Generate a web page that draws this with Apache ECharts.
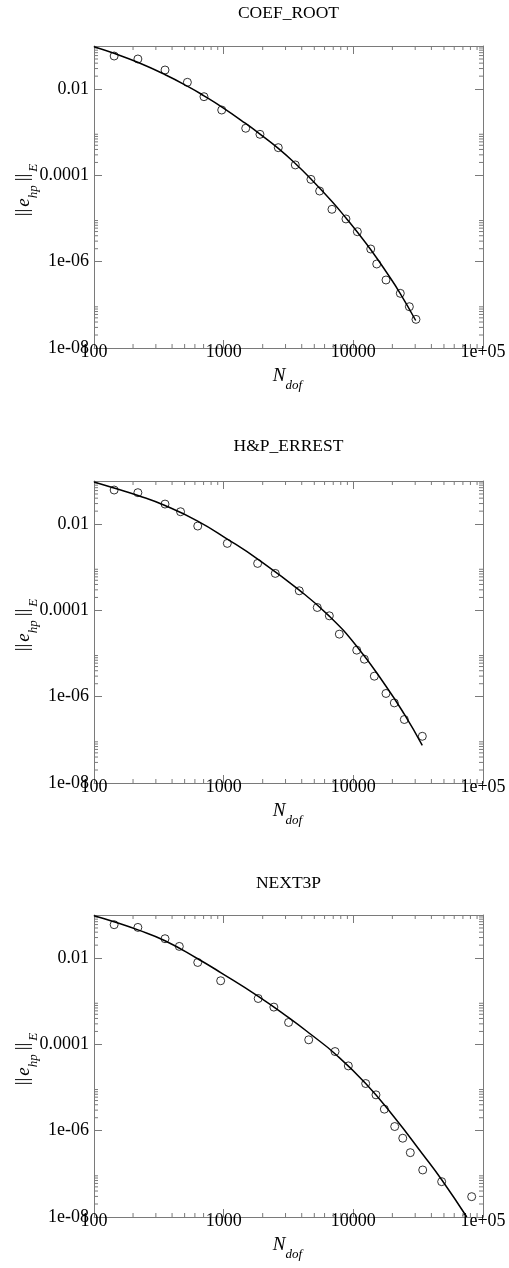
<!DOCTYPE html>
<html>
<head>
<meta charset="utf-8">
<script src="https://cdn.jsdelivr.net/npm/echarts@6/dist/echarts.min.js"></script>
<style>
  html, body { margin: 0; padding: 0; background: #fff; }
  #convChart { width: 509px; height: 1268px; }
</style>
</head>
<body>
<div id="convChart"></div>
<script>
// panel titles
const panelTitles = ['COEF_ROOT', 'H&P_ERREST', 'NEXT3P'];

// COEF_ROOT
const coefRootDofs = [143, 218, 353, 525, 705, 966, 1479, 1905, 2638, 3567, 4710, 5496, 6839, 8770, 10740, 13620, 15150, 17860, 23030, 27040, 30420];
const coefRootErr = [0.0586, 0.050, 0.0278, 0.0144, 0.00668, 0.00328, 0.00124, 0.000897, 0.00044, 0.000175, 8.1e-5, 4.35e-5, 1.64e-5, 9.8e-6, 4.96e-6, 1.97e-6, 8.85e-7, 3.77e-7, 1.85e-7, 9.06e-8, 4.61e-8];
const coefRootFitDofs = [100, 142.6, 219.6, 354.6, 524.2, 705.2, 970.7, 1468, 1906, 2638, 3567, 4716, 6845, 8778, 10728, 13685, 17962, 22893, 30265];
const coefRootFitErr = [0.0963, 0.0677, 0.0414, 0.0216, 0.01176, 0.00701, 0.003835, 0.001623, 0.000908, 0.000423, 0.000189, 8.26e-5, 2.49e-5, 1.03e-5, 4.88e-6, 1.87e-6, 5.77e-7, 1.88e-7, 4.34e-8];

// H&P_ERREST
const hpDofs = [143, 218, 353, 465, 631, 1067, 1828, 2500, 3828, 5270, 6530, 7800, 10620, 12160, 14520, 17860, 20700, 24730, 34040];
const hpErr = [0.0618, 0.0536, 0.0292, 0.0194, 0.00904, 0.00358, 0.00123, 0.000721, 0.000285, 0.000117, 7.5e-5, 2.82e-5, 1.2e-5, 7.4e-6, 2.99e-6, 1.19e-6, 7.18e-7, 2.96e-7, 1.21e-7];
const hpFitDofs = [100, 142.6, 218.4, 352.7, 630.5, 1066.6, 1830, 3831, 6525, 10614, 17867, 24717, 34028];
const hpFitErr = [0.0948, 0.0688, 0.0461, 0.0270, 0.0118, 0.00451, 0.00155, 0.000296, 7.37e-5, 1.485e-5, 1.752e-6, 3.93e-7, 7.49e-8];

// NEXT3P
const next3pDofs = [143, 218, 353, 455, 631, 948, 1846, 2438, 3167, 4527, 7228, 9150, 12450, 14950, 17340, 20850, 24050, 27500, 34280, 47980, 81800];
const next3pErr = [0.0596, 0.0516, 0.0282, 0.0187, 0.00794, 0.00299, 0.00116, 0.000733, 0.000323, 0.000128, 6.84e-5, 3.18e-5, 1.24e-5, 6.78e-6, 3.16e-6, 1.25e-6, 6.7e-7, 3.1e-7, 1.23e-7, 6.59e-8, 2.96e-8];
const next3pFitDofs = [100, 142.6, 218.4, 352.7, 630.5, 948.6, 1850, 3173, 4716, 7220, 12456, 20845, 34272, 48030, 75000];
const next3pFitErr = [0.0963, 0.0699, 0.0451, 0.02533, 0.00968, 0.004634, 0.001306, 0.000418, 0.0001697, 6.08e-5, 1.238e-5, 1.992e-6, 2.85e-7, 7.30e-8, 1e-8];

// axes
const xRange = [100, 100000];
const yRange = [1e-8, 0.1];
const xTickExps = [2, 3, 4, 5];
const xTickLabels = ['100', '1000', '10000', '1e+05'];
const yTickExps = [-8, -6, -4, -2];
const yTickLabels = ['1e-08', '1e-06', '0.0001', '0.01'];
const xMinorTicks = [200, 300, 400, 500, 600, 700, 800, 900, 2000, 3000, 4000, 5000, 6000, 7000, 8000, 9000, 20000, 30000, 40000, 50000, 60000, 70000, 80000, 90000];
const yMinorTicks = [2e-8, 3e-8, 4e-8, 5e-8, 6e-8, 7e-8, 8e-8, 9e-8, 2e-6, 3e-6, 4e-6, 5e-6, 6e-6, 7e-6, 8e-6, 9e-6, 2e-4, 3e-4, 4e-4, 5e-4, 6e-4, 7e-4, 8e-4, 9e-4, 0.02, 0.03, 0.04, 0.05, 0.06, 0.07, 0.08, 0.09];

const panels = [
  { dofs: coefRootDofs, err: coefRootErr, fitDofs: coefRootFitDofs, fitErr: coefRootFitErr },
  { dofs: hpDofs, err: hpErr, fitDofs: hpFitDofs, fitErr: hpFitErr },
  { dofs: next3pDofs, err: next3pErr, fitDofs: next3pFitDofs, fitErr: next3pFitErr }
];

const SERIF = 'Liberation Serif';
const FRAME = '#7a7a7a';
const gridTops = [46, 481, 915];
const titleYs = [13, 446, 883];
const gridLeft = 94, gridW = 389, gridH = 302;
const MAJOR = 8, MINOR = 4;

function labelFor(exps, labels) {
  return function (v) {
    const e = Math.round(Math.log10(v));
    const i = exps.indexOf(e);
    return i < 0 ? '' : labels[i];
  };
}

const richName = {
  n: { fontFamily: SERIF, fontSize: 19, lineHeight: 20, verticalAlign: 'top', color: '#000', padding: [0, 2, 0, 2] },
  i: { fontFamily: SERIF, fontSize: 19, lineHeight: 20, verticalAlign: 'top', fontStyle: 'italic', color: '#000' },
  s: { fontFamily: SERIF, fontSize: 13, lineHeight: 13, verticalAlign: 'top', fontStyle: 'italic', padding: [13, 2, 0, 0], color: '#000' }
};

const grid = [], xAxis = [], yAxis = [], series = [], graphic = [];

panels.forEach(function (p, k) {
  grid.push({ left: gridLeft, top: gridTops[k], width: gridW, height: gridH, outerBoundsMode: 'none' });

  // bottom x axis with labels
  xAxis.push({
    type: 'log', logBase: 10, gridIndex: k, min: xRange[0], max: xRange[1], interval: 1,
    position: 'bottom',
    name: '{i|N}{s|dof}', nameLocation: 'middle', nameGap: 18, nameMoveOverlap: false,
    nameTextStyle: { rich: richName },
    axisLine: { show: true, lineStyle: { color: FRAME, width: 1 } },
    axisTick: { show: true, inside: true, length: MAJOR, lineStyle: { color: FRAME } },
    axisLabel: { show: true, margin: -5, color: '#000', fontFamily: SERIF, fontSize: 18,
      formatter: labelFor(xTickExps, xTickLabels), showMinLabel: true, showMaxLabel: true, hideOverlap: false },
    splitLine: { show: false }
  });
  // top mirror
  xAxis.push({
    type: 'log', logBase: 10, gridIndex: k, min: xRange[0], max: xRange[1], interval: 1,
    position: 'top',
    axisLine: { show: true, lineStyle: { color: FRAME, width: 1 } },
    axisTick: { show: true, inside: true, length: MAJOR, lineStyle: { color: FRAME } },
    axisLabel: { show: false },
    splitLine: { show: false }
  });
  // left y axis with labels
  yAxis.push({
    type: 'log', logBase: 10, gridIndex: k, min: yRange[0], max: yRange[1], interval: 2,
    position: 'left',
    name: '{n|||}{i|e}{s|hp}{n|||}{s|E}', nameLocation: 'middle', nameGap: 60, nameRotate: 90, nameMoveOverlap: false,
    nameTextStyle: { rich: richName, padding: [0, 0, 0, 14] },
    axisLine: { show: true, lineStyle: { color: FRAME, width: 1 } },
    axisTick: { show: true, inside: true, length: MAJOR, lineStyle: { color: FRAME } },
    axisLabel: { show: true, margin: 5, color: '#000', fontFamily: SERIF, fontSize: 18,
      formatter: labelFor(yTickExps, yTickLabels), showMinLabel: true, showMaxLabel: true, hideOverlap: false },
    splitLine: { show: false }
  });
  // right mirror
  yAxis.push({
    type: 'log', logBase: 10, gridIndex: k, min: yRange[0], max: yRange[1], interval: 2,
    position: 'right',
    axisLine: { show: true, lineStyle: { color: FRAME, width: 1 } },
    axisTick: { show: true, inside: true, length: MAJOR, lineStyle: { color: FRAME } },
    axisLabel: { show: false },
    splitLine: { show: false }
  });

  const xi = 2 * k, yi = 2 * k;

  // minor ticks on x (bottom and top)
  series.push({
    type: 'custom', xAxisIndex: xi, yAxisIndex: yi, silent: true, clip: false,
    data: xMinorTicks.map(function (v) { return [v, yRange[0]]; }),
    renderItem: function (params, api) {
      const b = api.coord([api.value(0), yRange[0]]);
      const t = api.coord([api.value(0), yRange[1]]);
      const st = { stroke: FRAME, lineWidth: 1 };
      return { type: 'group', children: [
        { type: 'line', shape: { x1: b[0], y1: b[1], x2: b[0], y2: b[1] - MINOR }, style: st },
        { type: 'line', shape: { x1: t[0], y1: t[1], x2: t[0], y2: t[1] + MINOR }, style: st }
      ] };
    }
  });
  // minor ticks on y (left and right)
  series.push({
    type: 'custom', xAxisIndex: xi, yAxisIndex: yi, silent: true, clip: false,
    data: yMinorTicks.map(function (v) { return [xRange[0], v]; }),
    renderItem: function (params, api) {
      const l = api.coord([xRange[0], api.value(1)]);
      const r = api.coord([xRange[1], api.value(1)]);
      const st = { stroke: FRAME, lineWidth: 1 };
      return { type: 'group', children: [
        { type: 'line', shape: { x1: l[0], y1: l[1], x2: l[0] + MINOR, y2: l[1] }, style: st },
        { type: 'line', shape: { x1: r[0], y1: r[1], x2: r[0] - MINOR, y2: r[1] }, style: st }
      ] };
    }
  });

  // fitted curve
  series.push({
    type: 'line', xAxisIndex: xi, yAxisIndex: yi, smooth: 0.5, showSymbol: false, silent: true,
    lineStyle: { color: '#000', width: 1.5 },
    data: p.fitDofs.map(function (d, j) { return [d, p.fitErr[j]]; })
  });
  // measured points
  series.push({
    type: 'scatter', xAxisIndex: xi, yAxisIndex: yi, symbol: 'circle', symbolSize: 8, silent: true,
    itemStyle: { color: 'rgba(0,0,0,0)', borderColor: '#000', borderWidth: 1 },
    data: p.dofs.map(function (d, j) { return [d, p.err[j]]; })
  });

  graphic.push({
    type: 'text', x: gridLeft + gridW / 2, y: titleYs[k],
    style: { text: panelTitles[k], fill: '#000', font: '17.5px "Liberation Serif"', align: 'center', verticalAlign: 'middle' }
  });
});

const chart = echarts.init(document.getElementById('convChart'));
chart.setOption({
  backgroundColor: '#fff',
  animation: false,
  grid: grid,
  xAxis: xAxis,
  yAxis: yAxis,
  series: series,
  graphic: graphic
});
</script>
</body>
</html>
